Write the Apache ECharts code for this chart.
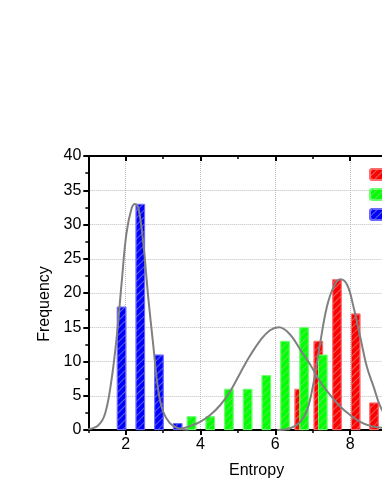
<!DOCTYPE html>
<html><head><meta charset="utf-8">
<script src="https://cdn.jsdelivr.net/npm/echarts@6/dist/echarts.min.js"></script>
<style>html,body{margin:0;padding:0;background:#fff}#c{width:382px;height:494px}</style>
</head><body><div id="c"></div>
<script>
// Histogram bars (bin centre, count)
const redX = [6.64, 7.15, 7.65, 8.15, 8.64];
const redY = [6, 13, 22, 17, 4];
const greenX = [3.76, 4.26, 4.76, 5.26, 5.76, 6.26, 6.77, 7.27];
const greenY = [2, 2, 6, 6, 8, 13, 15, 11];
const blueX = [1.89, 2.39, 2.89, 3.39];
const blueY = [18, 33, 11, 1];

// Fitted curves, points
const blueFitX = [1.0, 1.27, 1.45, 1.62, 1.76, 1.89, 2.02, 2.16, 2.25, 2.34, 2.47, 2.60, 2.74, 2.87, 3.0, 3.18, 3.4, 3.67];
const blueFitY = [0.1, 0.7, 2.4, 7.3, 13.6, 21.4, 28.7, 32.4, 33.0, 32.4, 27.3, 19.5, 12.2, 5.8, 2.7, 1.0, 0.25, 0.05];
const greenFitX = [3.46, 3.73, 3.99, 4.26, 4.53, 4.80, 5.06, 5.33, 5.60, 5.87, 6.10, 6.40, 6.67, 6.94, 7.20, 7.47, 7.74, 8.0, 8.27, 8.54, 8.81, 9.1, 9.4];
const greenFitY = [0.1, 0.6, 1.2, 2.2, 3.65, 5.7, 8.3, 10.9, 13.1, 14.6, 15.0, 13.9, 11.7, 9.5, 7.05, 5.1, 3.4, 2.2, 1.2, 0.6, 0.35, 0.15, 0.05];
const redFitX = [6.05, 6.40, 6.67, 6.85, 7.02, 7.20, 7.38, 7.56, 7.74, 7.92, 8.09, 8.27, 8.45, 8.63, 8.81, 9.0, 9.3];
const redFitY = [0.0, 0.25, 1.2, 2.9, 6.8, 12.7, 18.0, 20.9, 22.0, 21.2, 18.0, 13.6, 9.2, 6.3, 3.4, 1.8, 0.6];

const xMajorTicks = [2, 4, 6, 8, 10];
const xMinorTicks = [1, 3, 5, 7, 9];
const xName = 'Entropy';
const yName = 'Frequency';

const pair = (xs, ys) => xs.map((x, i) => [x, ys[i]]);
const FONT = 'Liberation Sans, Arial, sans-serif';
const hatch = {
  symbol: 'rect', symbolSize: 1,
  dashArrayX: [1, 0], dashArrayY: [1, 4],
  rotation: -Math.PI / 4,
  color: 'rgba(190,190,190,0.5)'
};

const chart = echarts.init(document.getElementById('c'), null, {renderer: 'canvas'});
const axisBase = {type: 'value', min: 1, max: 10};
chart.setOption({
  animation: false,
  textStyle: {fontFamily: FONT},
  grid: {left: 88.3, top: 156, width: 336.6, height: 274, containLabel: false, outerBoundsMode: 'none'},
  legend: {
    orient: 'vertical', left: 369, top: 168, padding: 0,
    itemWidth: 22, itemHeight: 11, itemGap: 7,
    data: ['red', 'green', 'blue'],
    formatter: () => '',
    textStyle: {fontSize: 1}
  },
  xAxis: [
    Object.assign({}, axisBase, {
      position: 'bottom',
      axisLine: {show: true, lineStyle: {color: '#000', width: 2}},
      axisTick: {show: true, customValues: xMajorTicks, length: 5, lineStyle: {color: '#000', width: 2}},
      axisLabel: {customValues: xMajorTicks, fontSize: 16, color: '#000', margin: 7, fontFamily: FONT},
      splitLine: {show: true, lineStyle: {type: 'dotted', color: '#bdbdbd', width: 1}},
      name: xName, nameLocation: 'middle', nameGap: 33,
      nameTextStyle: {fontSize: 16, color: '#000', fontFamily: FONT}
    }),
    Object.assign({}, axisBase, {
      position: 'bottom',
      axisLine: {show: false},
      axisTick: {show: true, customValues: xMinorTicks, length: 3, lineStyle: {color: '#000', width: 1.5}},
      axisLabel: {show: false}, splitLine: {show: false}
    }),
    Object.assign({}, axisBase, {
      position: 'top',
      axisLine: {show: true, lineStyle: {color: '#000', width: 2}},
      axisTick: {show: true, inside: true, customValues: xMajorTicks, length: 5, lineStyle: {color: '#000', width: 2}},
      axisLabel: {show: false}, splitLine: {show: false}
    }),
    Object.assign({}, axisBase, {
      position: 'top',
      axisLine: {show: false},
      axisTick: {show: true, inside: true, customValues: xMinorTicks, length: 3, lineStyle: {color: '#000', width: 1.5}},
      axisLabel: {show: false}, splitLine: {show: false}
    })
  ],
  yAxis: [{
    type: 'value', min: 0, max: 40, interval: 5, position: 'left',
    axisLine: {show: true, lineStyle: {color: '#000', width: 2}},
    axisTick: {show: true, length: 5, lineStyle: {color: '#000', width: 2}},
    minorTick: {show: true, splitNumber: 2, length: 3, lineStyle: {color: '#000', width: 1.5}},
    axisLabel: {fontSize: 16, color: '#000', margin: 7, fontFamily: FONT},
    splitLine: {show: true, lineStyle: {type: 'dotted', color: '#bdbdbd', width: 1}},
    name: yName, nameLocation: 'middle', nameGap: 36,
    nameTextStyle: {fontSize: 16, color: '#000', fontFamily: FONT, padding: [0, 22, 0, 0]}
  }],
  series: [
    {name: 'red', type: 'bar', barWidth: 9.4, barGap: '-100%', data: pair(redX, redY),
     itemStyle: {color: '#ff0000', borderColor: '#ff6a6a', borderWidth: 0.8, decal: hatch}},
    {name: 'green', type: 'bar', barWidth: 9.4, barGap: '-100%', data: pair(greenX, greenY),
     itemStyle: {color: '#00ff00', borderColor: '#6aff6a', borderWidth: 0.8, decal: hatch}},
    {name: 'blue', type: 'bar', barWidth: 9.4, barGap: '-100%', data: pair(blueX, blueY),
     itemStyle: {color: '#0000ff', borderColor: '#6a6aff', borderWidth: 0.8, decal: hatch}},
    {type: 'line', data: pair(blueFitX, blueFitY), smooth: 0.4, symbol: 'none', z: 5,
     lineStyle: {color: '#808080', width: 2}},
    {type: 'line', data: pair(greenFitX, greenFitY), smooth: 0.4, symbol: 'none', z: 5,
     lineStyle: {color: '#808080', width: 2}},
    {type: 'line', data: pair(redFitX, redFitY), smooth: 0.4, symbol: 'none', z: 5,
     lineStyle: {color: '#808080', width: 2}}
  ]
});
</script></body></html>
